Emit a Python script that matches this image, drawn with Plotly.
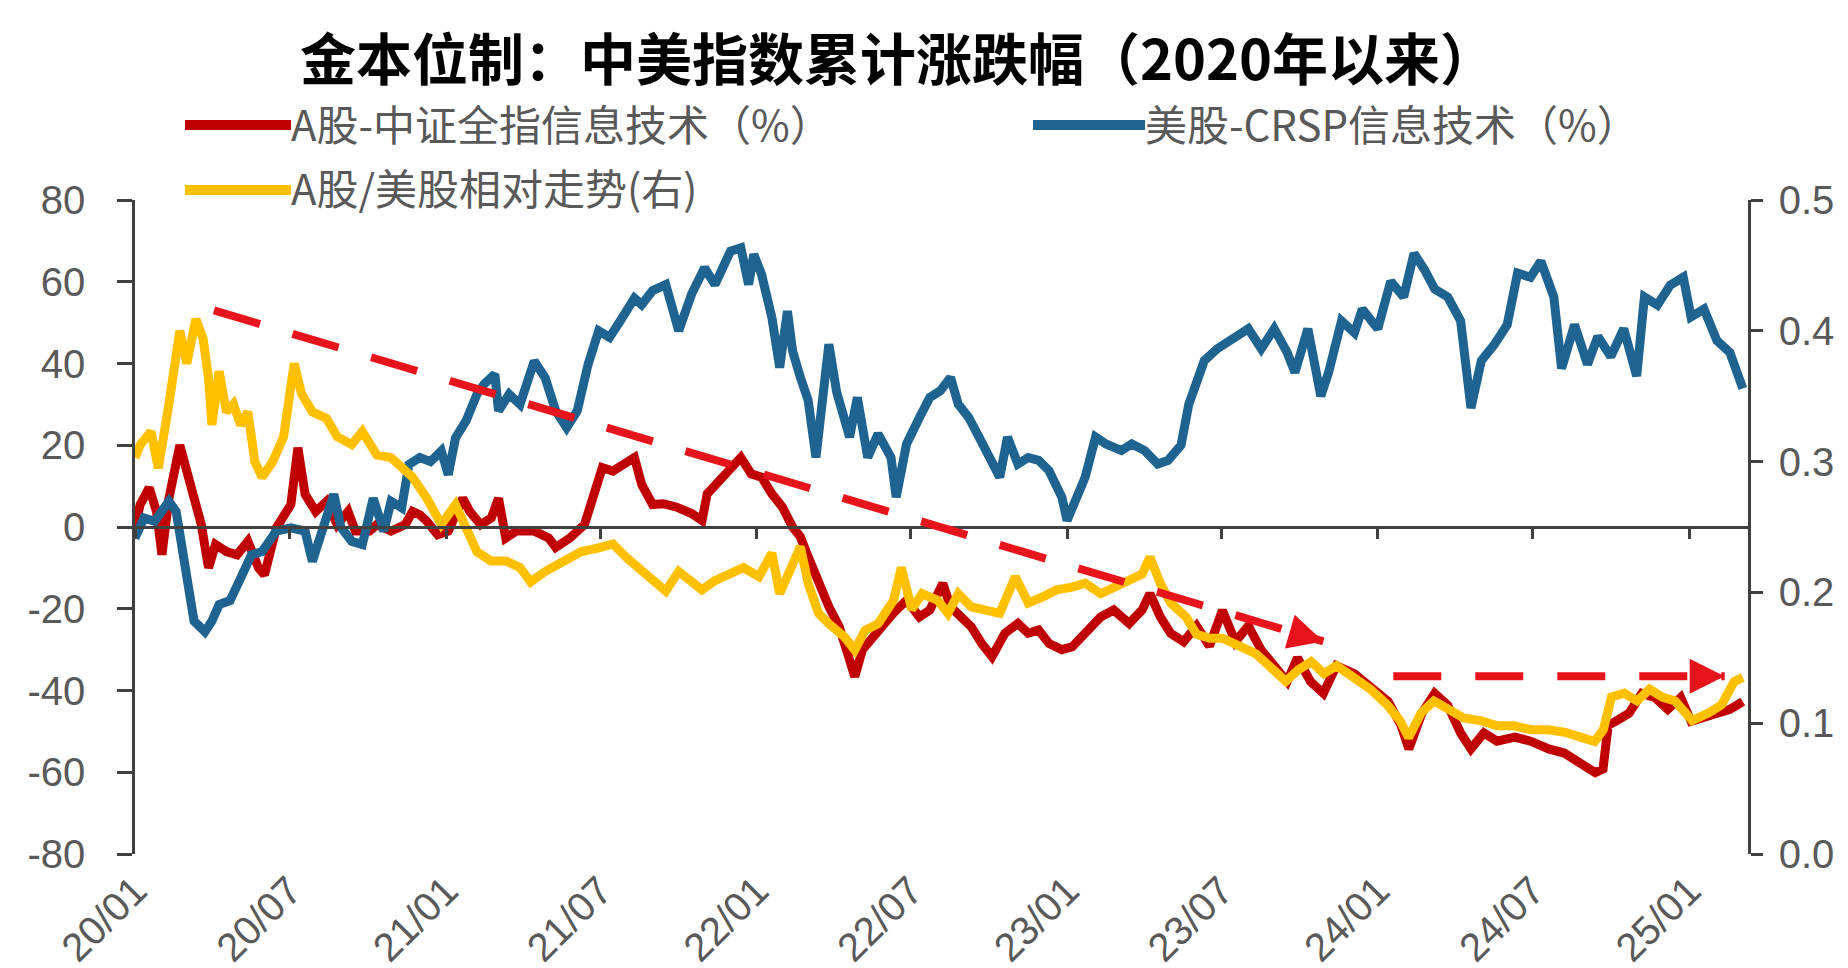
import pandas as pd
import plotly.graph_objects as go

# ---------------- data ----------------
# x positions are months since 2020-01-01
red_m = [0.0, 0.2, 0.55, 0.83, 1.04, 1.31, 1.73, 2.0, 2.28, 2.56,
         2.84, 3.11, 3.53, 3.94, 4.36, 4.77, 5.0, 5.46, 6.02, 6.29,
         6.57, 6.98, 7.4, 7.81, 8.23, 8.51, 9.06, 9.34, 9.89, 10.44,
         10.72, 11.0, 11.27, 11.69, 12.1, 12.66, 12.93, 13.35, 13.76, 14.04,
         14.32, 14.73, 15.42, 15.98, 16.25, 16.8, 17.36, 17.77, 18.05, 18.46,
         18.88, 19.29, 19.57, 19.99,
         20.4, 20.9, 21.5, 21.9, 22.1, 22.7, 23.1, 23.4, 23.8, 24.2,
         24.6, 25.0, 25.4, 25.7, 26.0, 26.4, 26.8, 27.2, 27.6, 27.8,
         28.1, 28.5, 28.9, 29.3, 29.8, 30.3, 30.7, 31.2, 31.5, 31.9,
         32.3, 32.7, 33.1, 33.6, 34.1, 34.5, 34.9, 35.3, 35.8, 36.2,
         36.7, 37.3, 37.8, 38.4, 38.9, 39.2, 39.6, 40.0,
         40.5, 41.0, 41.5, 42.0, 42.5, 43.0, 43.5, 44.0, 44.5, 44.9,
         45.4, 45.9, 46.4, 47.1, 47.7, 48.4, 48.9, 49.2, 49.7, 50.2,
         50.7, 51.2, 51.6, 52.1, 52.6, 53.3, 53.9, 54.6, 55.2, 55.9,
         56.4, 56.7, 56.9, 57.2, 57.7, 58.2, 58.7, 59.2, 59.7, 60.1,
         60.6, 61.1, 61.6, 62.1]
red_v = [0, 5.5, 9.6, 3.8, -6.8, 7, 20, 13.7, 8, 0.6,
         -10, -4.3, -6, -6.8, -3.5, -10, -11.7, -0.2, 5.5, 19.4,
         8, 3.8, 6.3, 0.6, 3.8, -1, -1, 0.6, -1, 0.6,
         3.8, 3, 1.4, -1.9, -1, 7, 3.8, 0.6, 2.2, 7,
         -2.7, -1, -1, -2.7, -5, -2.7, 0.6, 8.7, 14.5, 13.7,
         15.3, 17, 10.4, 5.5,
         5.7, 4.9, 3.3, 1.6, 8.1, 12.2, 14.6, 17, 13, 12.2,
         8.1, 4.9, 0, -2.4, -7.3, -13.8, -19.5, -24.4, -31.7, -36.6,
         -30, -26.8, -23.6, -21, -17.9, -22, -20.3, -13.8, -19.5, -22,
         -24.4, -28.5, -31.7, -26, -23.6, -26, -25.2, -28.5, -30, -29.3,
         -26, -22, -20.3, -23.6, -20.3, -16.3, -22, -26,
         -28.1, -24.2, -29.1, -20.4, -28.1, -24.2, -30.1, -33.9, -37.8, -32,
         -37.8, -40.7, -33.9, -35.9, -38.8, -42.7, -48.5, -54.3, -45.6, -40.7,
         -43.6, -50.4, -54.3, -50.4, -52.4, -51.4, -52.4, -54.3, -55.3, -58.2,
         -60.1, -59.2, -48.5, -47.5, -45.6, -40.7, -41.7, -44.6, -41.7, -47.5,
         -46.6, -45.6, -44.6, -42.7]

blue_m = [0.0, 0.35, 0.76, 1.31, 1.59, 1.8, 2.0, 2.28, 2.7, 2.97,
          3.25, 3.67, 4.08, 4.5, 4.91, 5.46, 6.02, 6.57, 6.85, 7.12,
          7.68, 7.95, 8.37, 8.78, 9.2, 9.61, 9.89, 10.3, 10.58, 11.0,
          11.41, 11.83, 12.1, 12.38, 12.79, 13.21, 13.49, 13.9, 14.04, 14.45,
          14.87, 15.42, 15.84, 16.25, 16.67, 17.08, 17.5, 17.91, 18.33, 18.74,
          19.29, 19.57, 19.99,
          20.5, 21.0, 21.5, 22.0, 22.4, 23.0, 23.4, 23.7, 23.9, 24.2,
          24.6, 24.9, 25.2, 25.4, 25.7, 26.0, 26.3, 26.5, 26.8, 27.1,
          27.4, 27.6, 27.9, 28.3, 28.7, 29.2, 29.4, 29.8, 30.3, 30.7,
          31.1, 31.5, 31.8, 32.2, 32.6, 33.0, 33.4, 33.7, 34.1, 34.5,
          34.9, 35.3, 35.8, 36.0, 36.3, 36.7, 37.1, 37.5, 38.1, 38.5,
          39.0, 39.5, 39.9,
          40.4, 40.7, 41.0, 41.3, 41.8, 42.5, 43.0, 43.5, 44.0, 44.5,
          44.8, 45.3, 45.8, 46.1, 46.6, 47.1, 47.4, 48.0, 48.5, 49.0,
          49.4, 49.8, 50.2, 50.7, 51.2, 51.6, 52.0, 52.5, 53.0, 53.4,
          53.9, 54.3, 54.8, 55.1, 55.6, 56.1, 56.5, 57.0, 57.5, 58.0,
          58.3, 58.8, 59.3, 59.8, 60.1, 60.6, 61.1, 61.6, 62.1]
blue_v = [-2.7, 2.2, 1.4, 6.3, 3.8, -4.3, -12.5, -23, -25.6, -23,
          -19, -18, -12.5, -6.8, -6, -1, -0.2, -1, -8.4, -3.5,
          8, 0, -3.5, -4.3, 7, -1, 6.3, 4.7, 15.3, 17,
          16, 18.6, 12.8, 21.8, 26, 32.5, 35, 37.4, 28.4, 32.5,
          30, 40.6, 36.5, 28.4, 24.3, 28.4, 39.8, 48, 46.4, 50.4,
          56, 54.4, 57.8,
          59.3, 48, 57, 63.4, 59.3, 67.5, 68.3, 59.3, 66.7, 61.8,
          51.2, 39, 52.8, 43, 36.6, 31, 17, 26.8, 44.7, 33,
          26.8, 22, 31.7, 17, 22.8, 17, 7.3, 20.3, 26.8, 31.7,
          33.3, 36.6, 30, 26.8, 22, 17, 12.2, 22, 15.4, 17,
          16.3, 13.8, 7.3, 1.6, 5.7, 12.2, 22, 20.3, 18.7, 20.3,
          18.7, 15.4, 16.3,
          20, 30, 36, 40.7, 43.6, 46.6, 48.5, 43.6, 48.5, 42.7,
          37.8, 48.5, 32, 37.8, 50.4, 47.5, 53.3, 48.5, 60.1, 56.3,
          66.9, 63, 58.2, 56.3, 50.4, 29.1, 40.7, 44.6, 49.5, 62.1,
          61.1, 65, 56.3, 38.8, 49.5, 39.8, 46.6, 41.7, 48.5, 36.9,
          56.3, 54.3, 59.2, 61.1, 51.4, 53.3, 45.6, 42.7, 33.9]

ratio_m = [0.0, 0.21, 0.62, 0.9, 1.31, 1.73, 2.0, 2.35, 2.63, 2.84,
           2.97, 3.25, 3.53, 3.8, 4.08, 4.36, 4.63, 4.91, 5.32, 5.74,
           6.15, 6.43, 6.85, 7.4, 7.81, 8.37, 8.78, 9.34, 9.89, 10.3,
           10.72, 11.27, 11.83, 12.38, 12.66, 13.21, 13.76, 14.32, 14.87, 15.28,
           15.84, 16.53, 17.22, 17.91, 18.46, 19.02, 19.85, 20.5,
           21.0, 21.5, 21.9, 22.4, 23.0, 23.5, 24.1, 24.6, 24.9, 25.3,
           25.7, 26.0, 26.4, 26.8, 27.4, 27.8, 28.2, 28.7, 29.3, 29.6,
           30.0, 30.4, 31.0, 31.4, 31.8, 32.3, 32.9, 33.4, 34.0, 34.5,
           35.1, 35.6, 36.2, 36.7, 37.3, 37.8, 38.4, 38.9, 39.2, 39.6,
           40.0, 40.6,
           41.0, 41.5, 42.0, 42.65, 43.3, 43.96, 44.45, 44.94, 45.43, 45.92,
           46.41, 47.07, 47.72, 48.37, 48.86, 49.19, 49.68, 50.17, 50.66, 51.31,
           51.97, 52.62, 53.27, 53.93, 54.58, 55.24, 55.89, 56.38, 56.71, 57.03,
           57.52, 58.01, 58.5, 58.99, 59.48, 60.14, 60.79, 61.28, 61.77, 62.1]
ratio_v = [0.303, 0.313, 0.323, 0.295, 0.344, 0.400, 0.375, 0.409, 0.394, 0.364,
           0.328, 0.369, 0.338, 0.344, 0.328, 0.338, 0.300, 0.288, 0.300, 0.319,
           0.375, 0.352, 0.338, 0.333, 0.319, 0.313, 0.323, 0.305, 0.303, 0.295,
           0.288, 0.272, 0.252, 0.267, 0.256, 0.231, 0.224, 0.224, 0.219, 0.208,
           0.216, 0.224, 0.231, 0.234, 0.237, 0.226, 0.211, 0.201,
           0.216, 0.207, 0.202, 0.209, 0.214, 0.219, 0.212, 0.230, 0.199, 0.217,
           0.235, 0.207, 0.184, 0.176, 0.166, 0.156, 0.171, 0.176, 0.194, 0.219,
           0.187, 0.199, 0.194, 0.184, 0.199, 0.189, 0.187, 0.184, 0.212, 0.192,
           0.197, 0.202, 0.204, 0.207, 0.199, 0.204, 0.209, 0.214, 0.227, 0.207,
           0.192, 0.181,
           0.168, 0.165, 0.165, 0.159, 0.153, 0.141, 0.132, 0.141, 0.147, 0.138,
           0.144, 0.135, 0.126, 0.114, 0.102, 0.089, 0.108, 0.117, 0.111, 0.104,
           0.102, 0.098, 0.098, 0.095, 0.095, 0.093, 0.089, 0.086, 0.095, 0.120,
           0.123, 0.117, 0.126, 0.120, 0.117, 0.102, 0.108, 0.114, 0.132, 0.135]

tick_dates = ["2020-01-01", "2020-07-01", "2021-01-01", "2021-07-01", "2022-01-01",
              "2022-07-01", "2023-01-01", "2023-07-01", "2024-01-01", "2024-07-01",
              "2025-01-01"]
tick_labels = ["20/01", "20/07", "21/01", "21/07", "22/01", "22/07",
               "23/01", "23/07", "24/01", "24/07", "25/01"]
left_ticks = [-80, -60, -40, -20, 0, 20, 40, 60, 80]
left_labels = ["-80", "-60", "-40", "-20", "0", "20", "40", "60", "80"]
right_ticks = [0.0, 0.1, 0.2, 0.3, 0.4, 0.5]
right_labels = ["0.0", "0.1", "0.2", "0.3", "0.4", "0.5"]

# trend arrows: (months since 2020-01, left-axis value)
trend_down = [(3.05, 53.0), (45.9, -28.0)]
trend_flat = [(48.6, -36.5), (61.4, -36.5)]

names = ["A股-中证全指信息技术（%）", "美股-CRSP信息技术（%）", "A股/美股相对走势(右)"]
title_text = "金本位制：中美指数累计涨跌幅（2020年以来）"

# ---------------- styling ----------------
RED = "#C00000"
BLUE = "#1F6391"
YELLOW = "#FFC000"
ARROW = "#E8141C"
AXIS = "#404040"
LABEL = "#595959"

W, H = 1848, 968
ML, MR, MT, MB = 127, 108, 192, 122
PW, PH = W - ML - MR, H - MT - MB

BASE = pd.Timestamp("2020-01-01")


def to_date(m):
    return BASE + pd.Timedelta(days=float(m) * 30.4375)


def dates(ms):
    return [to_date(m) for m in ms]


def px_x(px):
    return (px - ML) / PW


def px_y(py):
    return (H - MB - py) / PH


x_range = [BASE, to_date(62.3)]
tick_font = dict(family="Liberation Sans, Arial, sans-serif", size=40, color=LABEL)
LW = 9

fig = go.Figure()
fig.add_trace(go.Scatter(x=dates(red_m), y=red_v, name=names[0], mode="lines",
                         line=dict(color=RED, width=LW), showlegend=False))
fig.add_trace(go.Scatter(x=dates(blue_m), y=blue_v, name=names[1], mode="lines",
                         line=dict(color=BLUE, width=LW), showlegend=False))
# ratio series lives on the zero-line x axis (same range) and the right y axis
fig.add_trace(go.Scatter(x=dates(ratio_m), y=ratio_v, name=names[2], mode="lines",
                         line=dict(color=YELLOW, width=LW), xaxis="x2", yaxis="y2",
                         showlegend=False))

shapes = []
annotations = []

# trend arrows (dashed body + arrow head)
for (p0, p1), (hax, hay) in [(trend_down, (-24, -7)), (trend_flat, (-25, 0))]:
    shapes.append(dict(type="line", xref="x", yref="y",
                       x0=to_date(p0[0]), y0=p0[1], x1=to_date(p1[0]), y1=p1[1],
                       line=dict(color=ARROW, width=8, dash="48px,34px"), layer="above"))
    annotations.append(dict(x=to_date(p1[0]), y=p1[1], xref="x", yref="y",
                            ax=hax, ay=hay, text="", showarrow=True,
                            arrowhead=2, arrowsize=1.75, arrowwidth=4, arrowcolor=ARROW))

# manual legend
legend_rows = [(RED, names[0], 177, 283, 117),
               (BLUE, names[1], 1025, 1137, 117),
               (YELLOW, names[2], 177, 283, 182)]
for col, txt, lx0, lx1, ly in legend_rows:
    shapes.append(dict(type="line", xref="paper", yref="paper",
                       x0=px_x(lx0), x1=px_x(lx1), y0=px_y(ly), y1=px_y(ly),
                       line=dict(color=col, width=10)))
    annotations.append(dict(x=px_x(lx1 - 2), y=px_y(ly - 3), xref="paper", yref="paper",
                            text=txt, showarrow=False, xanchor="left", yanchor="middle",
                            font=dict(family="Noto Sans CJK SC", size=42, color=LABEL)))

fig.update_layout(
    width=W, height=H,
    template="none",
    paper_bgcolor="white", plot_bgcolor="white",
    margin=dict(l=ML, r=MR, t=MT, b=MB, autoexpand=False),
    showlegend=False,
    title=dict(text="<b>" + title_text + "</b>", x=890 / W, xref="container", xanchor="center",
               y=1 - 52 / H, yref="container", yanchor="middle",
               font=dict(family="Noto Sans CJK SC", size=56, color="#000000")),
    xaxis=dict(domain=[0, 1], range=x_range, anchor="y", type="date",
               showline=False, ticks="", showgrid=False, zeroline=False,
               tickmode="array", tickvals=tick_dates, ticktext=tick_labels,
               tickangle=-45, tickfont=tick_font, ticklabelstandoff=4, automargin=False),
    xaxis2=dict(overlaying="x", range=x_range, anchor="free", position=0.5, type="date",
                showline=True, linecolor=AXIS, linewidth=2.5,
                ticks="outside", ticklen=10, tickwidth=2.5, tickcolor=AXIS,
                tickmode="array", tickvals=tick_dates, showticklabels=False,
                showgrid=False, zeroline=False, automargin=False),
    yaxis=dict(domain=[0, 1], range=[-80, 80], tickmode="array", tickvals=left_ticks,
               ticktext=left_labels,
               ticks="outside", ticklen=15, tickwidth=2.5, tickcolor=AXIS,
               showline=True, linecolor=AXIS, linewidth=2.5,
               showgrid=False, zeroline=False, tickfont=tick_font,
               ticklabelstandoff=24, automargin=False),
    yaxis2=dict(overlaying="y", side="right", anchor="x2", range=[0, 0.5],
                tickmode="array", tickvals=right_ticks, ticktext=right_labels,
                ticks="outside", ticklen=12, tickwidth=2.5, tickcolor=AXIS,
                showline=True, linecolor=AXIS, linewidth=2.5,
                showgrid=False, zeroline=False, tickfont=tick_font,
                ticklabelstandoff=8, automargin=False),
    shapes=shapes,
    annotations=annotations,
)

fig.write_html("out.html")
